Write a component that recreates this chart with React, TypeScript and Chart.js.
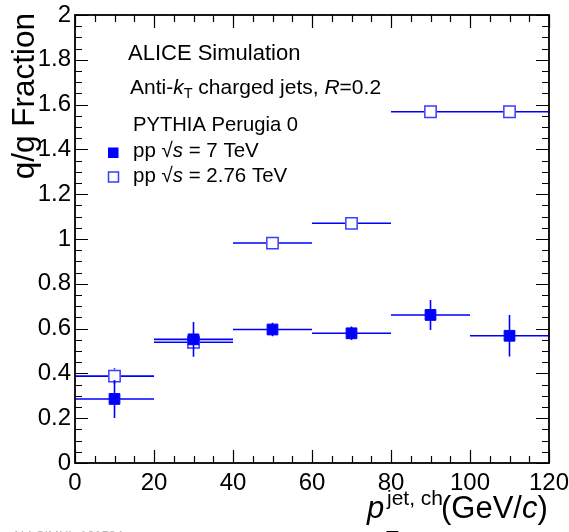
import React, { useEffect, useRef } from "react";
import { Chart, registerables } from "chart.js";

Chart.register(...registerables);

// ---- data ----
const binCenters = [10, 30, 50, 70, 90, 110];
const binHalfWidths = [10, 10, 10, 10, 10, 10];
const frac7TeV = [0.286, 0.552, 0.596, 0.579, 0.661, 0.568];
const err7TeV = [0.085, 0.078, 0.03, 0.03, 0.067, 0.093];
const frac276TeV = [0.388, 0.539, 0.982, 1.07, 1.568, 1.568];
const err276TeV = [0.035, 0.02, 0.02, 0.02, 0.02, 0.02];

const xMajorTicks = [0, 20, 40, 60, 80, 100, 120];
const yMajorTicks = [0, 0.2, 0.4, 0.6, 0.8, 1, 1.2, 1.4, 1.6, 1.8, 2];
const xMinorStep = 5;
const yMinorStep = 0.05;

const legendHeader = ["ALICE Simulation", "PYTHIA Perugia 0"];
const seriesLabels = ["pp \u221As = 7 TeV", "pp \u221As = 2.76 TeV"];

const FONT = "'Liberation Sans', Arial, Helvetica, sans-serif";
const BLUE = "#0000ff";
const OPEN_BLUE = "#3b3bff";

type Seg = { t: string; size: number; italic?: boolean; dy?: number };

function drawSegs(ctx: CanvasRenderingContext2D, segs: Seg[], x: number, y: number) {
  let cx = x;
  for (const s of segs) {
    ctx.font = `${s.italic ? "italic " : ""}${s.size}px ${FONT}`;
    ctx.fillText(s.t, cx, y + (s.dy || 0));
    cx += ctx.measureText(s.t).width;
  }
}

function segsForSeries(label: string): Seg[] {
  const idx = label.indexOf("\u221As");
  return [
    { t: label.slice(0, idx), size: 20.5 },
    { t: "\u221A", size: 20.5 },
    { t: "s", size: 20.5, italic: true },
    { t: label.slice(idx + 2), size: 20.5 },
  ];
}

const errorBarPlugin = {
  id: "errorBars",
  beforeDatasetsDraw(chart: any) {
    drawErrors(chart, frac276TeV, err276TeV, 6.5);
  },
  afterDatasetsDraw(chart: any) {
    drawErrors(chart, frac7TeV, err7TeV, 0);
  },
};

function drawErrors(chart: any, vals: number[], errs: number[], gap: number) {
  const ctx: CanvasRenderingContext2D = chart.ctx;
  const xs = chart.scales.x;
  const ys = chart.scales.y;
  ctx.save();
  ctx.strokeStyle = BLUE;
  ctx.lineWidth = 1.6;
  for (let i = 0; i < binCenters.length; i++) {
    const px = xs.getPixelForValue(binCenters[i]);
    const py = ys.getPixelForValue(vals[i]);
    const xl = xs.getPixelForValue(binCenters[i] - binHalfWidths[i]);
    const xr = xs.getPixelForValue(binCenters[i] + binHalfWidths[i]);
    const yt = ys.getPixelForValue(vals[i] + errs[i]);
    const yb = ys.getPixelForValue(vals[i] - errs[i]);
    ctx.beginPath();
    ctx.moveTo(xl, py);
    ctx.lineTo(px - gap, py);
    ctx.moveTo(px + gap, py);
    ctx.lineTo(xr, py);
    if (py - yt > gap) {
      ctx.moveTo(px, py - gap);
      ctx.lineTo(px, yt);
    }
    if (yb - py > gap) {
      ctx.moveTo(px, py + gap);
      ctx.lineTo(px, yb);
    }
    ctx.stroke();
  }
  ctx.restore();
}

const decorPlugin = {
  id: "decor",
  afterDraw(chart: any) {
    const ctx: CanvasRenderingContext2D = chart.ctx;
    const { left, right, top, bottom } = chart.chartArea;
    const xs = chart.scales.x;
    const ys = chart.scales.y;
    ctx.save();

    // ticks on four sides, pointing inward
    ctx.strokeStyle = "#000";
    ctx.lineWidth = 1.2;
    const majLen = 13;
    const minLen = 7;
    ctx.beginPath();
    for (let v = xs.min; v <= xs.max + 1e-9; v += xMinorStep) {
      const isMaj = xMajorTicks.some((m) => Math.abs(m - v) < 1e-6);
      const px = Math.round(xs.getPixelForValue(v)) + 0.5;
      const len = isMaj ? majLen : minLen;
      ctx.moveTo(px, bottom);
      ctx.lineTo(px, bottom - len);
      ctx.moveTo(px, top);
      ctx.lineTo(px, top + len);
    }
    for (let k = 0; k <= Math.round((ys.max - ys.min) / yMinorStep); k++) {
      const v = ys.min + k * yMinorStep;
      const isMaj = yMajorTicks.some((m) => Math.abs(m - v) < 1e-6);
      const py = Math.round(ys.getPixelForValue(v)) + 0.5;
      const len = isMaj ? majLen : minLen;
      ctx.moveTo(left, py);
      ctx.lineTo(left + len, py);
      ctx.moveTo(right, py);
      ctx.lineTo(right - len, py);
    }
    ctx.stroke();

    // frame
    ctx.lineWidth = 1.8;
    ctx.strokeRect(left, top, right - left, bottom - top);

    // legend / labels
    ctx.fillStyle = "#000";
    ctx.textAlign = "left";
    ctx.textBaseline = "alphabetic";
    drawSegs(ctx, [{ t: legendHeader[0], size: 22 }], 128, 60);
    drawSegs(
      ctx,
      [
        { t: "Anti-", size: 21 },
        { t: "k", size: 21, italic: true },
        { t: "T", size: 14.5, dy: 4 },
        { t: " charged jets, ", size: 21 },
        { t: "R", size: 21, italic: true },
        { t: "=0.2", size: 21 },
      ],
      130,
      93.5
    );
    drawSegs(ctx, [{ t: legendHeader[1], size: 20.2 }], 133, 131);

    // legend markers
    ctx.fillStyle = BLUE;
    ctx.fillRect(108, 147.5, 10.5, 10.5);
    ctx.fillStyle = "#fff";
    ctx.fillRect(108, 171.5, 10.5, 10.5);
    ctx.strokeStyle = OPEN_BLUE;
    ctx.lineWidth = 1.5;
    ctx.strokeRect(108.5, 172, 10, 10);

    ctx.fillStyle = "#000";
    drawSegs(ctx, segsForSeries(seriesLabels[0]), 133, 157);
    drawSegs(ctx, segsForSeries(seriesLabels[1]), 133, 181.5);

    // x axis title
    drawSegs(ctx, [{ t: "p", size: 31, italic: true }], 367, 518);
    drawSegs(ctx, [{ t: "jet, ch", size: 21 }], 387, 505);
    drawSegs(ctx, [{ t: "T", size: 21 }], 386, 545);
    drawSegs(
      ctx,
      [
        { t: "(GeV/", size: 31 },
        { t: "c", size: 31, italic: true },
        { t: ")", size: 31 },
      ],
      441,
      518
    );

    // y axis title
    ctx.save();
    ctx.translate(34, 13);
    ctx.rotate(-Math.PI / 2);
    ctx.textAlign = "right";
    ctx.font = `31.5px ${FONT}`;
    ctx.fillText("q/g Fraction", 0, 0);
    ctx.restore();

    // cut-off watermark
    ctx.fillStyle = "#b4b4b4";
    ctx.font = `13px ${FONT}`;
    ctx.fillText("ALI-SIMUL-101524", 12, 539.5);

    ctx.restore();
  },
};

export default function App() {
  const ref = useRef<HTMLCanvasElement>(null);

  useEffect(() => {
    if (!ref.current) return;
    const chart = new Chart(ref.current, {
      type: "scatter",
      data: {
        datasets: [
          {
            label: seriesLabels[0],
            data: binCenters.map((x, i) => ({ x, y: frac7TeV[i] })),
            pointStyle: "rect",
            pointRadius: 7.6,
            backgroundColor: BLUE,
            borderColor: BLUE,
            borderWidth: 1,
            showLine: false,
          },
          {
            label: seriesLabels[1],
            data: binCenters.map((x, i) => ({ x, y: frac276TeV[i] })),
            pointStyle: "rect",
            pointRadius: 8,
            backgroundColor: "#ffffff",
            borderColor: OPEN_BLUE,
            borderWidth: 1.5,
            showLine: false,
          },
        ],
      },
      options: {
        animation: false,
        responsive: false,
        devicePixelRatio: 1,
        events: [],
        layout: { padding: { left: 0, right: 20, top: 15, bottom: 0 } },
        plugins: {
          legend: { display: false },
          tooltip: { enabled: false },
        },
        scales: {
          x: {
            type: "linear",
            min: 0,
            max: 120,
            grid: { display: false, drawTicks: false },
            border: { display: false },
            ticks: {
              stepSize: 20,
              autoSkip: false,
              maxRotation: 0,
              padding: 6,
              color: "#000",
              font: { family: FONT, size: 24 },
              callback: (v: any) => String(v),
            },
            afterFit: (s: any) => {
              s.height = 69;
              s.paddingLeft = 0;
              s.paddingRight = 0;
            },
          },
          y: {
            type: "linear",
            min: 0,
            max: 2,
            grid: { display: false, drawTicks: false },
            border: { display: false },
            ticks: {
              stepSize: 0.2,
              autoSkip: false,
              padding: 4,
              color: "#000",
              font: { family: FONT, size: 24 },
              callback: (v: any) => String(Number(Number(v).toFixed(1))),
            },
            afterFit: (s: any) => {
              s.width = 75;
              s.paddingTop = 0;
              s.paddingBottom = 0;
            },
          },
        },
      },
      plugins: [errorBarPlugin, decorPlugin],
    });
    return () => chart.destroy();
  }, []);

  return (
    <div style={{ position: "absolute", left: 0, top: 0, width: 569, height: 532, background: "#fff" }}>
      <canvas ref={ref} width={569} height={532} style={{ width: 569, height: 532, display: "block" }} />
    </div>
  );
}
